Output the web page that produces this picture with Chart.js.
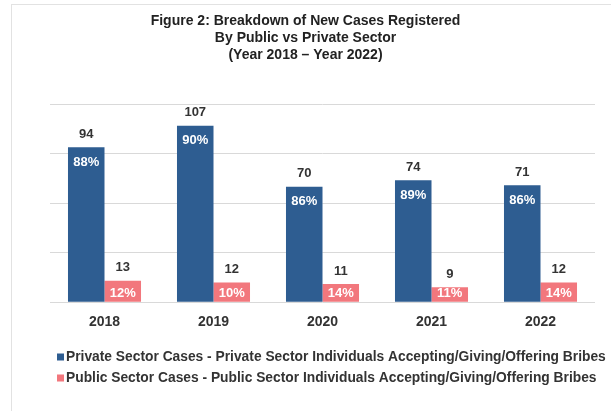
<!DOCTYPE html>
<html>
<head>
<meta charset="utf-8">
<script src="https://cdn.jsdelivr.net/npm/chart.js@4.4.1/dist/chart.umd.min.js"></script>
<style>
  html, body { margin: 0; padding: 0; background: #fff; }
  #wrap { position: relative; width: 611px; height: 411px; }
  #frame { position: absolute; left: 11px; top: 4px; right: 0; bottom: 0;
           border-top: 1px solid #e2e2e2; border-left: 1px solid #e2e2e2; }
  #chart { position: absolute; left: 0; top: 0; }
</style>
</head>
<body>
<div id="wrap">
  <div id="frame"></div>
  <canvas id="chart" width="611" height="411"></canvas>
</div>
<script>
// 各年份新立案件（私營 vs 公營）
const years = ['2018', '2019', '2020', '2021', '2022'];
const privateCases = [94, 107, 70, 74, 71];
const publicCases = [13, 12, 11, 9, 12];
const privatePct = ['88%', '90%', '86%', '89%', '86%'];
const publicPct = ['12%', '10%', '14%', '11%', '14%'];
const yTicks = [0, 30, 60, 90, 120];

const blue = '#2E5D91';
const pink = '#F2777D';
const font = '"Liberation Sans", Arial, sans-serif';

// 柱子上方的數量 + 柱內百分比
const barLabels = {
    id: 'barLabels',
    afterDatasetsDraw(chart) {
        const ctx = chart.ctx;
        const pcts = [privatePct, publicPct];
        ctx.save();
        ctx.textAlign = 'center';
        ctx.textBaseline = 'middle';
        chart.data.datasets.forEach((ds, i) => {
            chart.getDatasetMeta(i).data.forEach((bar, j) => {
                ctx.font = 'bold 13px ' + font;
                ctx.fillStyle = '#333';
                ctx.fillText(ds.data[j], bar.x, bar.y - 13);
                ctx.fillStyle = '#fff';
                // 藍柱：頂部下方；粉柱太矮，貼底放
                const py = i === 0 ? bar.y + 15 : bar.base - 8;
                ctx.fillText(pcts[i][j], bar.x, py);
            });
        });
        ctx.restore();
    }
};

// 圖例：靠左、每項一行
const bottomLegend = {
    id: 'bottomLegend',
    afterDraw(chart) {
        const ctx = chart.ctx;
        ctx.save();
        ctx.font = 'bold 13.8px ' + font;
        ctx.textBaseline = 'middle';
        chart.data.datasets.forEach((ds, i) => {
            const y = 357 + i * 21;
            ctx.fillStyle = ds.backgroundColor;
            ctx.fillRect(57, y - 3.5, 7, 7);
            ctx.fillStyle = '#333';
            ctx.fillText(ds.label, 66, y);
        });
        ctx.restore();
    }
};

new Chart(document.getElementById('chart').getContext('2d'), {
    type: 'bar',
    data: {
        labels: years,
        datasets: [{
            label: 'Private Sector Cases - Private Sector Individuals Accepting/Giving/Offering Bribes',
            data: privateCases,
            backgroundColor: blue,
            categoryPercentage: 0.67,
            barPercentage: 1
        }, {
            label: 'Public Sector Cases - Public Sector Individuals Accepting/Giving/Offering Bribes',
            data: publicCases,
            backgroundColor: pink,
            categoryPercentage: 0.67,
            barPercentage: 1
        }]
    },
    options: {
        responsive: false,
        animation: false,
        layout: { padding: { left: 0, right: 0, bottom: 68 } },
        scales: {
            x: {
                grid: { display: false, drawTicks: false },
                border: { display: false },
                ticks: { color: '#333', padding: 12, font: { family: font, size: 14, weight: 'bold' } }
            },
            y: {
                min: yTicks[0],
                max: yTicks[yTicks.length - 1],
                afterBuildTicks: (axis) => { axis.ticks = yTicks.map(v => ({ value: v })); },
                afterFit: (axis) => { axis.width = 50; },
                ticks: { display: false },
                grid: { color: '#d9d9d9', drawTicks: false },
                border: { display: false }
            },
            yRight: {
                position: 'right',
                afterFit: (axis) => { axis.width = 16; },
                ticks: { display: false },
                grid: { display: false, drawTicks: false },
                border: { display: false }
            }
        },
        plugins: {
            title: {
                display: true,
                text: ['Figure 2: Breakdown of New Cases Registered', 'By Public vs Private Sector', '(Year 2018 \u2013 Year 2022)'],
                color: '#222',
                font: { family: font, size: 14, weight: 'bold', lineHeight: 1.2 },
                padding: { top: 13, bottom: 41 }
            },
            legend: { display: false },
            tooltip: { enabled: false }
        }
    },
    plugins: [barLabels, bottomLegend]
});
</script>
</body>
</html>
